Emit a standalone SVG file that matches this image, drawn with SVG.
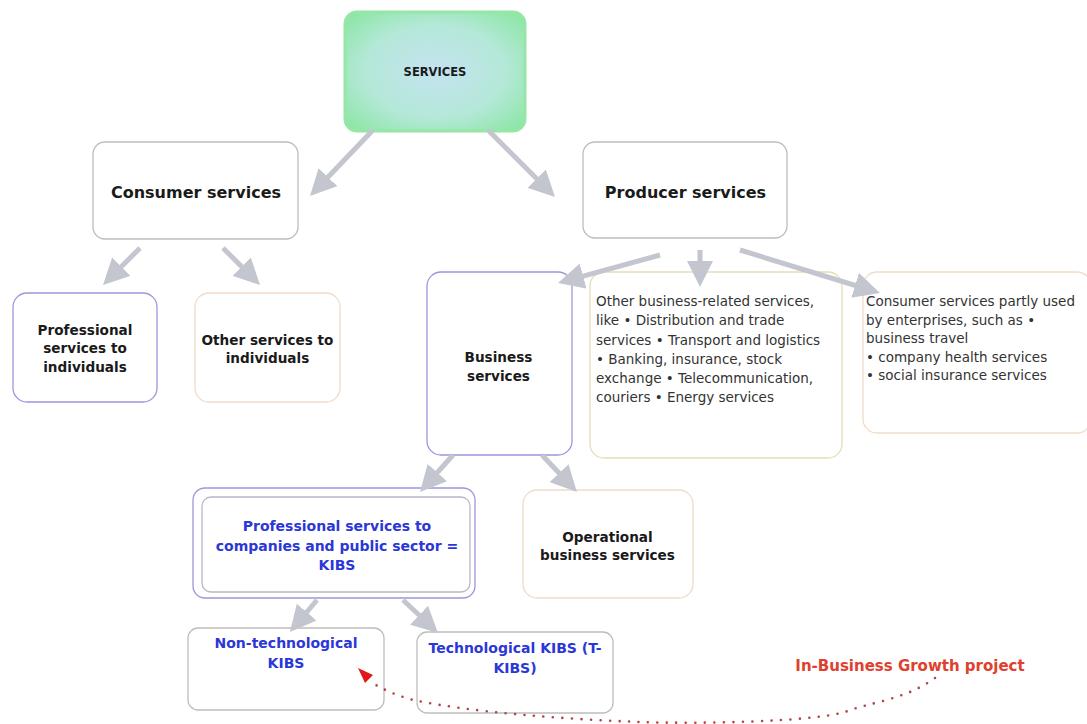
<svg xmlns="http://www.w3.org/2000/svg" width="1087" height="724" viewBox="0 0 1087 724">
<style>
.box{fill:#fff;stroke:#bdbdbd;stroke-width:1.3}
.pur{stroke:#9a98dc}
.bei{stroke:#f0dcc8}
.yel{stroke:#e6ddb8}
.h{font-family:"DejaVu Sans",Verdana,sans-serif;font-weight:bold;font-size:13.6px;fill:#1a1a1a;text-anchor:middle}
.big{font-size:16px}
.blue{fill:#2b37d6;font-size:14px}
.body{font-family:"DejaVu Sans",Verdana,sans-serif;font-size:13.5px;fill:#333}
.arr{stroke:#c4c6cf;stroke-width:5;fill:none;marker-end:url(#ah)}
</style>
<defs>
<marker id="ah" markerUnits="userSpaceOnUse" markerWidth="26" markerHeight="26" viewBox="0 0 26 26" refX="14" refY="13" orient="auto">
<path d="M0,0 L26,13 L0,26 z" fill="#c4c6cf"/>
</marker>
<radialGradient id="g1" cx="50%" cy="50%" r="65%">
<stop offset="0" stop-color="#c4e3f0"/>
<stop offset="0.6" stop-color="#b4e8d8"/>
<stop offset="1" stop-color="#8fe6a8"/>
</radialGradient>
</defs>
<rect width="1087" height="724" fill="#fff"/>
<g id="services"><rect x="345" y="12" width="180" height="119" rx="12" fill="url(#g1)" stroke="#96e6a6" stroke-width="3"/><text class="h" x="435" y="76" style="font-size:11.5px">SERVICES</text></g>
<g id="consumer"><rect class="box" x="93" y="142" width="205" height="97" rx="12"/><text class="h big" x="196" y="198">Consumer services</text></g>
<g id="producer"><rect class="box" x="583" y="142" width="204" height="96" rx="12"/><text class="h big" x="685.5" y="198">Producer services</text></g>
<g id="prof-ind"><rect class="box pur" x="13" y="293" width="144" height="109" rx="14"/><text class="h" x="85" y="335">Professional</text><text class="h" x="85" y="353">services to</text><text class="h" x="85" y="372">individuals</text></g>
<g id="other-ind"><rect class="box bei" x="195" y="293" width="145" height="109" rx="14"/><text class="h" x="267.5" y="345">Other services to</text><text class="h" x="267.5" y="363">individuals</text></g>
<g id="business"><rect class="box pur" x="427" y="272" width="145" height="183" rx="14"/><text class="h" x="498.5" y="362">Business</text><text class="h" x="498.5" y="381">services</text></g>
<g id="other-business"><rect class="box yel" x="590" y="272" width="252" height="186" rx="14"/>
<text class="body" x="596" y="306">Other business-related services,</text>
<text class="body" x="596" y="325">like • Distribution and trade</text>
<text class="body" x="596" y="344.5">services • Transport and logistics</text>
<text class="body" x="596" y="364">• Banking, insurance, stock</text>
<text class="body" x="596" y="383">exchange • Telecommunication,</text>
<text class="body" x="596" y="402">couriers • Energy services</text></g>
<g id="consumer-partly"><rect class="box bei" x="863" y="272" width="228" height="161" rx="14"/>
<text class="body" x="866" y="306">Consumer services partly used</text>
<text class="body" x="866" y="324.5">by enterprises, such as •</text>
<text class="body" x="866" y="343">business travel</text>
<text class="body" x="866" y="361.5">• company health services</text>
<text class="body" x="866" y="380">• social insurance services</text></g>
<g id="kibs"><rect class="box pur" x="193" y="488" width="282" height="110" rx="12"/><rect class="box" x="202" y="497" width="268" height="95" rx="9" style="stroke:#b8b8c8"/>
<text class="h blue" x="337" y="531">Professional services to</text><text class="h blue" x="337" y="551">companies and public sector =</text><text class="h blue" x="337" y="570">KIBS</text></g>
<g id="operational"><rect class="box bei" x="523" y="490" width="170" height="108" rx="14"/><text class="h" x="607.5" y="542">Operational</text><text class="h" x="607.5" y="560">business services</text></g>
<g id="non-tech"><rect class="box" x="188" y="628" width="196" height="82" rx="10"/><text class="h blue" x="286" y="648">Non-technological</text><text class="h blue" x="286" y="668">KIBS</text></g>
<g id="t-kibs"><rect class="box" x="417" y="632" width="196" height="81" rx="10"/><text class="h blue" x="515" y="653">Technological KIBS (T-</text><text class="h blue" x="515" y="673">KIBS)</text></g>
<g id="project"><text class="h" x="910" y="671" style="font-size:15px;fill:#e0402e">In-Business Growth project</text></g>
<g id="connectors">
<line class="arr" x1="373" y1="130" x2="318.3" y2="187.3"/>
<line class="arr" x1="488" y1="130" x2="546.5" y2="188.5"/>
<line class="arr" x1="140" y1="248" x2="111.5" y2="276.5"/>
<line class="arr" x1="223" y1="248" x2="251.5" y2="276.5"/>
<line class="arr" x1="660" y1="255" x2="569.6" y2="279.8"/>
<line class="arr" x1="700" y1="250" x2="700" y2="275"/>
<line class="arr" x1="740" y1="250" x2="868.5" y2="289.5"/>
<line class="arr" x1="453" y1="455" x2="428" y2="483"/>
<line class="arr" x1="542" y1="455" x2="568.7" y2="483.3"/>
<line class="arr" x1="317" y1="600" x2="297.7" y2="622.8"/>
<line class="arr" x1="403" y1="600" x2="429.3" y2="624.8"/>
<path d="M935,678 C905,700 870,702 845,712 C810,722 700,724 640,722 C560,719 470,712 413,700 C395,695 385,690 374,684" fill="none" stroke="#b04545" stroke-width="2.6" stroke-linecap="round" stroke-dasharray="0 9.5"/>
<polygon points="358,668 373,675 365,683" fill="#e01818"/>
</g>
</svg>
